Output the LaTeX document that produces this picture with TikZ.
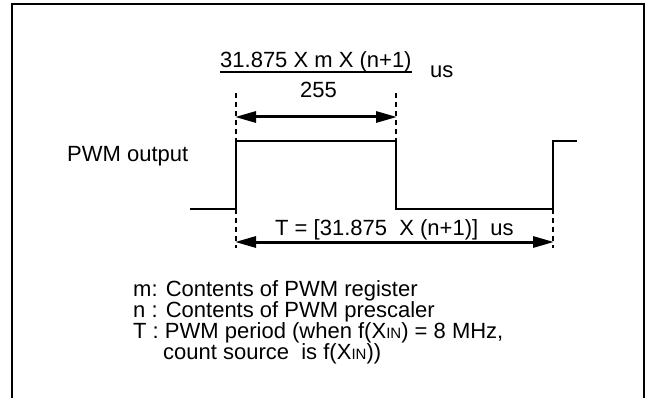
\documentclass[tikz,border=0pt]{standalone}
\usepackage{fontspec}
\setmainfont{Liberation Sans}
\usetikzlibrary{arrows.meta}
\newcommand{\xin}{X{\fontsize{15}{15}\selectfont IN}}
\begin{document}
\begin{tikzpicture}[x=1pt,y=-1pt,
  txt/.style={inner sep=0pt,anchor=base west,font=\fontsize{22}{22}\selectfont},
  frameline/.style={line width=2.5pt},
  sig/.style={line width=1.8pt},
  dashline/.style={line width=1.4pt,dash pattern=on 5pt off 4pt},
  dimarrow/.style={line width=3pt,{Triangle[length=21pt,width=11pt]}-{Triangle[length=21pt,width=11pt]},shorten <=-1pt,shorten >=-1pt}]
\useasboundingbox (0,0) rectangle (647,398);
% frame
\coordinate (fbl) at (12,400);
\coordinate (ftl) at (12,4);
\coordinate (ftr) at (644,4);
\coordinate (fbr) at (644,400);
\draw[frameline] (fbl) -- (ftl) -- (ftr) -- (fbr);
% formula
\node[txt] (num) at (220,68) {31.875 X m X (n+1)};
\coordinate (fl) at (220,72);
\coordinate (fr) at (412,72);
\draw[line width=2pt] (fl) -- (fr);
\node[txt] (den) at (300,98) {255};
\node[txt] (us) at (430,78) {us};
% signal points
\coordinate (s0) at (190,209);
\coordinate (s1) at (236,209);
\coordinate (s2) at (236,141);
\coordinate (s3) at (396,141);
\coordinate (s4) at (396,209);
\coordinate (s5) at (553,209);
\coordinate (s6) at (553,141);
\coordinate (s7) at (577,141);
\draw[sig] (s0) -- (s1) -- (s2) -- (s3) -- (s4) -- (s5) -- (s6) -- (s7);
% dashed guides
\coordinate (d1t) at (236,93);
\coordinate (d1b) at (236,248);
\coordinate (d2t) at (396,93);
\coordinate (d3b) at (553,248);
\draw[dashline] (d1t) -- (s2);
\draw[dashline] (s1) -- (d1b);
\draw[dashline] (d2t) -- (s3);
\draw[dashline] (s5) -- (d3b);
% dimension arrows
\coordinate (a1l) at (236,117);
\coordinate (a1r) at (396,117);
\draw[dimarrow] (a1l) -- (a1r);
\coordinate (a2l) at (236,242);
\coordinate (a2r) at (553,242);
\draw[dimarrow] (a2l) -- (a2r);
\node[txt] (tlab) at (275,235) {T = [31.875~~X (n+1)]~~us};
% label
\node[txt] (pwm) at (67,162) {PWM output};
% legend
\node[txt] (l1) at (133,296) {m: Contents of PWM register};
\node[txt] (l2) at (133,317) {n : Contents of PWM prescaler};
\node[txt] (l3) at (133,338) {T : PWM period (when f(\xin) = 8 MHz,};
\node[txt] (l4) at (163,359) {count source~~is f(\xin))};
\end{tikzpicture}
\end{document}
